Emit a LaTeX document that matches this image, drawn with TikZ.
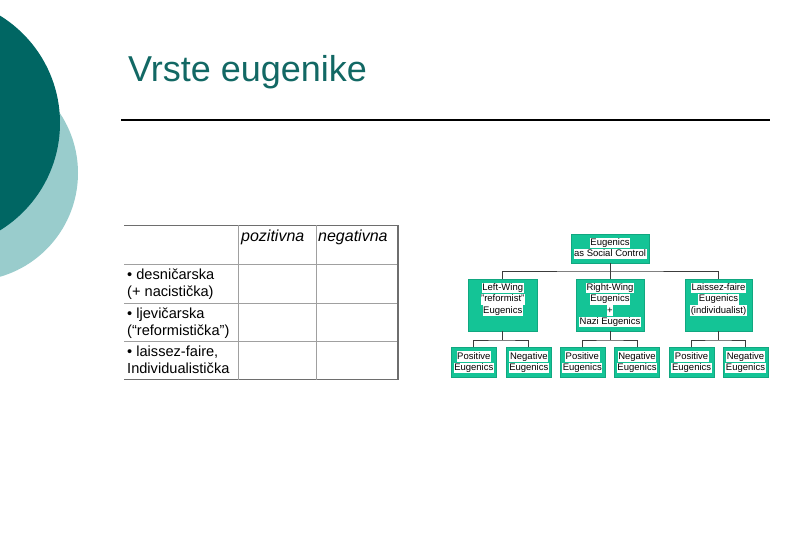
\documentclass[tikz,border=0pt]{standalone}
\usepackage{fontspec}
\setmainfont{Liberation Sans}
\definecolor{darkteal}{RGB}{0,102,99}
\definecolor{lightteal}{RGB}{153,204,204}
\definecolor{titleteal}{RGB}{18,104,100}
\definecolor{boxgreen}{RGB}{20,196,150}
\definecolor{gridgray}{RGB}{160,160,160}
\definecolor{griddark}{RGB}{110,110,110}
\definecolor{linkgray}{RGB}{60,60,60}
\setlength{\fboxsep}{0.6pt}
\newcommand{\hlw}[1]{\colorbox{white}{\rule[-2.2pt]{0pt}{9.4pt}#1}}
\begin{document}
\begin{tikzpicture}[x=1pt,y=-1pt,
  gbox/.style={fill=boxgreen, draw=boxgreen!85!black, line width=0.4pt, inner sep=0pt, outer sep=0pt, align=center,
    font=\fontsize{9.5}{11.3}\selectfont},
  boxtext/.style={inner sep=0pt, align=center, font=\fontsize{9.5}{11.3}\selectfont},
  link/.style={draw=linkgray, line width=0.9pt},
  cell/.style={anchor=base west, inner sep=0pt, font=\fontsize{14.6}{17}\selectfont, align=left},
  head/.style={anchor=base west, inner sep=0pt, font=\fontsize{16}{18}\selectfont\itshape}
]
\useasboundingbox (0,0) rectangle (810,540);
\begin{scope}
\clip (0,0) rectangle (810,540);
\fill[lightteal] (-30,173) circle[radius=108pt];
\fill[darkteal] (-66,123) circle[radius=126pt];
\end{scope}

% title and rule
\node[anchor=base west, inner sep=0pt, text=titleteal, font=\fontsize{36}{40}\selectfont] (title) at (128,82) {Vrste eugenike};
\coordinate (ruleL) at (121,120);
\coordinate (ruleR) at (770,120);
\draw[line width=1.8pt] (ruleL) -- (ruleR);

% table
\foreach \y in {264,303,341} \draw[gridgray, line width=0.8pt] (124,\y) -- (398,\y);
\draw[griddark, line width=1pt] (124,225) -- (398,225);
\draw[griddark, line width=1pt] (124,379.5) -- (398,379.5);
\draw[gridgray, line width=0.8pt] (238,225) -- (238,379.5);
\draw[gridgray, line width=0.8pt] (316,225) -- (316,379.5);
\draw[griddark, line width=1.1pt] (398,225) -- (398,379.5);

\node[head] (hpos) at (241,241) {pozitivna};
\node[head] (hneg) at (318,241) {negativna};
\node[cell] (r1a) at (127,279) {• desničarska};
\node[cell] (r1b) at (127,296) {(+ nacistička)};
\node[cell] (r2a) at (127,318) {• ljevičarska};
\node[cell] (r2b) at (127,335) {(“reformistička”)};
\node[cell] (r3a) at (127,356) {• laissez-faire,};
\node[cell] (r3b) at (127,373) {Individualistička};

% tree
\node[gbox, minimum width=78pt, minimum height=29pt] (top) at (610,248.5) {\hlw{Eugenics}\\\hlw{as Social Control}};

\node[gbox, minimum width=68.5pt, minimum height=52pt] (midL) at (502.75,305) {};
\node[gbox, minimum width=68pt, minimum height=52pt] (midM) at (610,305) {};
\node[gbox, minimum width=67pt, minimum height=52pt] (midR) at (718.5,305) {};
\node[boxtext, anchor=north] (tL) at ([yshift=-3.5pt]midL.north) {\hlw{Left-Wing}\\\hlw{\symbol{34}reformist\symbol{34}}\\\hlw{Eugenics}};
\node[boxtext, anchor=north] (tM) at ([yshift=-3.5pt]midM.north) {\hlw{Right-Wing}\\\hlw{Eugenics}\\\hlw{+}\\\hlw{Nazi Eugenics}};
\node[boxtext, anchor=north] (tR) at ([yshift=-3.5pt]midR.north) {\hlw{Laissez-faire}\\\hlw{Eugenics}\\\hlw{(individualist)}};

\foreach \n/\x/\t in {p1/473.8/Positive, n1/528.8/Negative, p2/582.3/Positive, n2/637/Negative, p3/691.6/Positive, n3/745.5/Negative}
  \node[gbox, minimum width=45pt, minimum height=30pt] (\n) at (\x,362.3) {\hlw{\t}\\\hlw{Eugenics}};

\coordinate (j0) at (610,271);
\draw[link] (top.south) -- (j0);
\draw[link] (midL.north) |- (j0) -| (midR.north);
\draw[link] (j0) -- (midM.north);

\coordinate (jL) at (502.75,340);
\coordinate (jM) at (610,340);
\coordinate (jR) at (718.5,340);
\draw[link] (midL.south) -- (jL);
\draw[link] (p1.north) |- (jL) -| (n1.north);
\draw[link] (midM.south) -- (jM);
\draw[link] (p2.north) |- (jM) -| (n2.north);
\draw[link] (midR.south) -- (jR);
\draw[link] (p3.north) |- (jR) -| (n3.north);
\end{tikzpicture}
\end{document}
